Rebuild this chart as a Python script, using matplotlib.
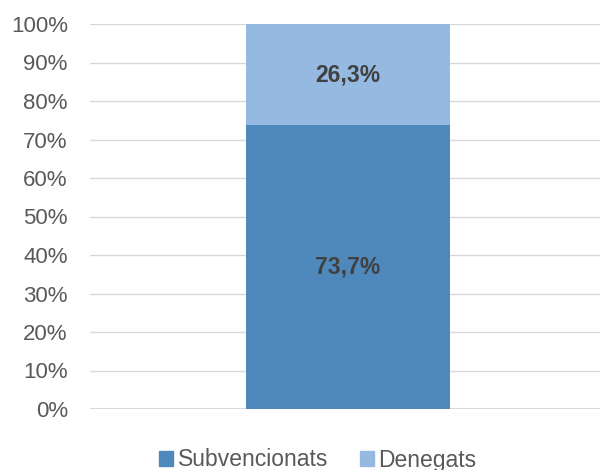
import matplotlib
matplotlib.use("Agg")
import matplotlib.pyplot as plt
from matplotlib.patches import Patch

plt.rcParams['font.family'] = ['Liberation Sans', 'DejaVu Sans']

categories = ['']
series_names = ['Subvencionats', 'Denegats']
subvencionats = [73.7]
denegats = [26.3]
labels_sub = ['73,7%']
labels_den = ['26,3%']
yticks = [0, 10, 20, 30, 40, 50, 60, 70, 80, 90, 100]
ytick_labels = [f'{v}%' for v in yticks]
colors = ['#4F89BC', '#95B9E0']

fig = plt.figure(figsize=(6.01, 4.70), dpi=100)
ax = fig.add_axes([90/601, 1-409/470, 510/601, (409-24)/470])

x = list(range(len(categories)))
ax.bar(x, subvencionats, width=0.4, color=colors[0], zorder=3)
ax.bar(x, denegats, width=0.4, bottom=subvencionats, color=colors[1], zorder=3)

for xi, s, d, ls, ld in zip(x, subvencionats, denegats, labels_sub, labels_den):
    ax.text(xi, s/2, ls, ha='center', va='center', fontsize=16.5, fontweight='bold', color='#404040', zorder=4)
    ax.text(xi, s + d/2, ld, ha='center', va='center', fontsize=16.5, fontweight='bold', color='#404040', zorder=4)

ax.set_xlim(-0.505, 0.495)
ax.set_ylim(0, 100)
ax.set_yticks(yticks)
ax.set_yticklabels(ytick_labels, fontsize=16, color='#595959')
ax.set_xticks([])
ax.tick_params(axis='y', length=0, pad=16)
ax.grid(axis='y', color='#D9D9D9', linewidth=1, zorder=0)
for sp in ax.spines.values():
    sp.set_visible(False)
ax.axhline(0, color='#D9D9D9', linewidth=1.5, zorder=1)

handles = [Patch(color=colors[0]), Patch(color=colors[1])]
fig.legend(handles, series_names, loc='center', bbox_to_anchor=(318/601, 1-460/470), ncol=2,
           frameon=False, fontsize=16.5, handlelength=0.6, handleheight=0.6, handletextpad=0.2,
           columnspacing=1.4, labelcolor='#595959', borderpad=0, borderaxespad=0)

fig.savefig('out.png', dpi=100)
